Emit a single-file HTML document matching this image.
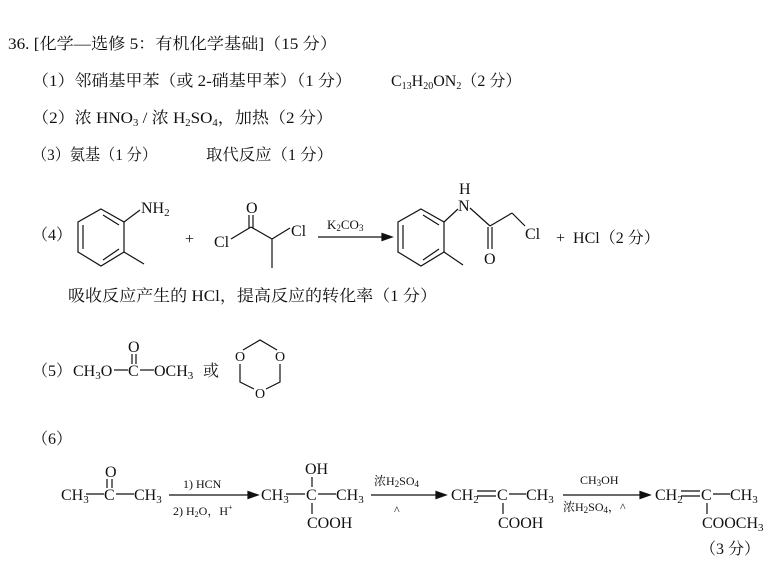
<!DOCTYPE html>
<html><head><meta charset="utf-8"><style>
html,body{margin:0;padding:0;background:#fff;width:770px;height:575px;overflow:hidden}
svg{display:block}
text{font-family:"Liberation Serif","Noto Serif CJK SC","Noto Sans CJK SC",serif;fill:#111}
.m{font-size:16px}
.s{font-size:12px}
line,polyline,polygon{stroke:#111;stroke-width:1.2;fill:none}
</style></head><body>
<svg width="770" height="575" viewBox="0 0 770 575" xmlns="http://www.w3.org/2000/svg">
<text class="m" x="8" y="49" textLength="329" lengthAdjust="spacingAndGlyphs">36. [化学—选修 5：有机化学基础]（15 分）</text>
<text class="m" x="32" y="86" textLength="320" lengthAdjust="spacingAndGlyphs">（1）邻硝基甲苯（或 2-硝基甲苯）（1 分）</text>
<text class="m" x="391" y="86">C<tspan font-size="10" dy="3">13</tspan><tspan dy="-3">H</tspan><tspan font-size="10" dy="3">20</tspan><tspan dy="-3">ON</tspan><tspan font-size="10" dy="3">2</tspan><tspan dy="-3">（2 分）</tspan></text>
<text class="m" x="32" y="123" textLength="301" lengthAdjust="spacingAndGlyphs">（2）浓 HNO<tspan font-size="10" dy="3">3</tspan><tspan dy="-3"> / 浓 H</tspan><tspan font-size="10" dy="3">2</tspan><tspan dy="-3">SO</tspan><tspan font-size="10" dy="3">4</tspan><tspan dy="-3">，加热（2 分）</tspan></text>
<text class="m" x="32" y="160" textLength="125" lengthAdjust="spacingAndGlyphs">（3）氨基（1 分）</text>
<text class="m" x="206" y="160" textLength="127" lengthAdjust="spacingAndGlyphs">取代反应（1 分）</text>

<!-- (4) -->
<text class="m" x="32" y="240">（4）</text>
<polygon points="101,209 124,222 124,252 101,266 78,252 78,222"/>
<line x1="83" y1="225" x2="83" y2="249"/>
<line x1="103" y1="215" x2="119" y2="225"/>
<line x1="103" y1="260" x2="119" y2="249"/>
<line x1="124" y1="222" x2="140" y2="210"/>
<line x1="124" y1="252" x2="144" y2="264"/>
<text class="m" x="141" y="213">NH<tspan font-size="11" dy="3">2</tspan></text>
<text class="m" x="185" y="244">+</text>
<text class="m" x="214" y="247">Cl</text>
<line x1="231" y1="239" x2="251" y2="227"/>
<text class="m" x="246" y="213">O</text>
<line x1="249" y1="215" x2="249" y2="228"/>
<line x1="253" y1="215" x2="253" y2="228"/>
<line x1="251" y1="227" x2="272" y2="239"/>
<line x1="272" y1="239" x2="272" y2="268"/>
<line x1="272" y1="239" x2="290" y2="228"/>
<text class="m" x="291" y="236">Cl</text>
<text x="327" y="229" style="font-size:13px">K<tspan font-size="9" dy="2">2</tspan><tspan dy="-2">CO</tspan><tspan font-size="9" dy="2">3</tspan></text>
<line x1="318" y1="237" x2="385" y2="237"/>
<polygon points="392,237 382,233.5 382,240.5" style="fill:#111"/>
<polygon points="421,209 444,222 444,252 421,266 398,252 398,222"/>
<line x1="403" y1="225" x2="403" y2="249"/>
<line x1="423" y1="215" x2="439" y2="225"/>
<line x1="423" y1="260" x2="439" y2="249"/>
<line x1="444" y1="252" x2="463" y2="265"/>
<line x1="444" y1="222" x2="458" y2="209"/>
<text class="m" x="459" y="194">H</text>
<text class="m" x="458" y="211">N</text>
<line x1="470" y1="208" x2="490" y2="226"/>
<line x1="488" y1="227" x2="488" y2="249"/>
<line x1="492" y1="227" x2="492" y2="249"/>
<text class="m" x="484" y="264">O</text>
<line x1="490" y1="226" x2="512" y2="213"/>
<line x1="512" y1="213" x2="525" y2="226"/>
<text class="m" x="525" y="239">Cl</text>
<text class="m" x="556" y="243">+&#160;&#160;HCl（2 分）</text>

<text class="m" x="68" y="301" textLength="369" lengthAdjust="spacingAndGlyphs">吸收反应产生的 HCl，提高反应的转化率（1 分）</text>

<!-- (5) -->
<text class="m" x="32" y="376">（5）</text>
<text class="m" x="73" y="376">CH<tspan font-size="11" dy="3">3</tspan><tspan dy="-3">O</tspan></text>
<line x1="114" y1="370" x2="128" y2="370"/>
<text class="m" x="128" y="376">C</text>
<text class="m" x="128" y="352">O</text>
<line x1="132" y1="354" x2="132" y2="364"/>
<line x1="136" y1="354" x2="136" y2="364"/>
<line x1="140" y1="370" x2="154" y2="370"/>
<text class="m" x="154" y="376">OCH<tspan font-size="11" dy="3">3</tspan></text>
<text class="m" x="203" y="376">或</text>
<text x="235" y="361" style="font-size:14px">O</text>
<text x="275" y="361" style="font-size:14px">O</text>
<text x="255" y="398" style="font-size:14px">O</text>
<polyline points="243,350 260,340 277,350"/>
<polyline points="240,364 240,382 254,389"/>
<polyline points="280,364 280,382 266,389"/>

<!-- (6) -->
<text class="m" x="32" y="444">（6）</text>
<text class="m" x="61" y="500">CH<tspan font-size="11" dy="3">3</tspan></text>
<line x1="86" y1="494" x2="104" y2="494"/>
<text class="m" x="104" y="500">C</text>
<text class="m" x="105" y="477">O</text>
<line x1="107" y1="479" x2="107" y2="488"/>
<line x1="112" y1="479" x2="112" y2="488"/>
<line x1="116" y1="494" x2="134" y2="494"/>
<text class="m" x="134" y="500">CH<tspan font-size="11" dy="3">3</tspan></text>
<text class="s" x="183" y="488">1) HCN</text>
<text class="s" x="173" y="515">2) H<tspan font-size="8" dy="2">2</tspan><tspan dy="-2">O，H</tspan><tspan font-size="8" dy="-5">+</tspan></text>
<line x1="169" y1="495" x2="250" y2="495"/>
<polygon points="258,495 248,491.5 248,498.5" style="fill:#111"/>

<text class="m" x="261" y="500">CH<tspan font-size="11" dy="3">3</tspan></text>
<line x1="286" y1="494" x2="305" y2="494"/>
<text class="m" x="306" y="500">C</text>
<text class="m" x="305" y="474">OH</text>
<line x1="312" y1="477" x2="312" y2="487"/>
<line x1="312" y1="503" x2="312" y2="514"/>
<text class="m" x="307" y="528">COOH</text>
<line x1="318" y1="494" x2="336" y2="494"/>
<text class="m" x="336" y="500">CH<tspan font-size="11" dy="3">3</tspan></text>
<text class="s" x="374" y="485">浓H<tspan font-size="9" dy="2">2</tspan><tspan dy="-2">SO</tspan><tspan font-size="9" dy="2">4</tspan></text>
<text class="s" x="394" y="514">^</text>
<line x1="371" y1="495" x2="438" y2="495"/>
<polygon points="446,495 436,491.5 436,498.5" style="fill:#111"/>

<text class="m" x="451" y="500">CH<tspan font-size="11" dy="3">2</tspan></text>
<line x1="477" y1="491" x2="496" y2="491"/>
<line x1="477" y1="496" x2="496" y2="496"/>
<text class="m" x="497" y="500">C</text>
<line x1="503" y1="503" x2="503" y2="514"/>
<text class="m" x="498" y="528">COOH</text>
<line x1="509" y1="494" x2="526" y2="494"/>
<text class="m" x="526" y="500">CH<tspan font-size="11" dy="3">3</tspan></text>
<text class="s" x="580" y="484">CH<tspan font-size="9" dy="2">3</tspan><tspan dy="-2">OH</tspan></text>
<text class="s" x="563" y="511">浓H<tspan font-size="9" dy="2">2</tspan><tspan dy="-2">SO</tspan><tspan font-size="9" dy="2">4</tspan><tspan dy="-2">，^</tspan></text>
<line x1="563" y1="495" x2="642" y2="495"/>
<polygon points="650,495 640,491.5 640,498.5" style="fill:#111"/>

<text class="m" x="655" y="500">CH<tspan font-size="11" dy="3">2</tspan></text>
<line x1="681" y1="491" x2="700" y2="491"/>
<line x1="681" y1="496" x2="700" y2="496"/>
<text class="m" x="701" y="500">C</text>
<line x1="707" y1="503" x2="707" y2="514"/>
<text class="m" x="702" y="528">COOCH<tspan font-size="11" dy="3">3</tspan></text>
<line x1="713" y1="494" x2="730" y2="494"/>
<text class="m" x="730" y="500">CH<tspan font-size="11" dy="3">3</tspan></text>
<text class="m" x="700" y="554">（3 分）</text>
</svg>
</body></html>
